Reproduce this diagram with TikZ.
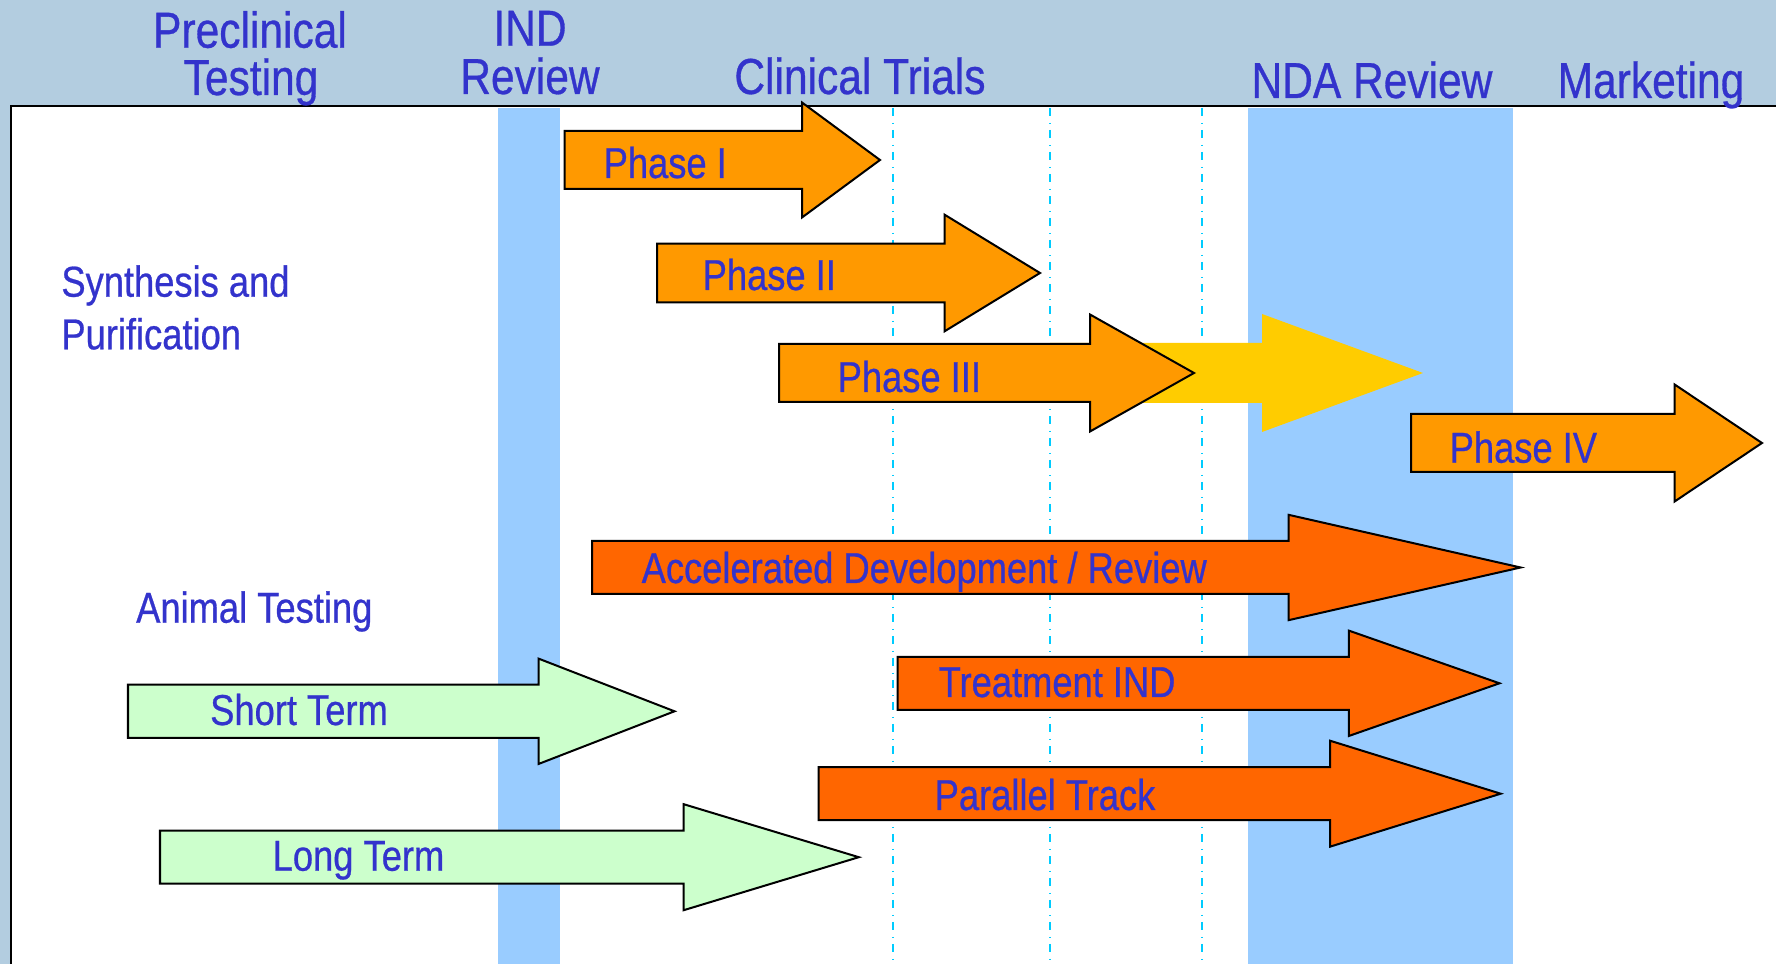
\documentclass[tikz,border=0pt]{standalone}
\usepackage{fontspec}
\setmainfont{Liberation Sans}[FakeStretch=0.84,FakeBold=0.6]
\definecolor{hdrColor}{HTML}{B3CDE0}
\definecolor{txtColor}{HTML}{3333CC}
\definecolor{revColor}{HTML}{99CCFF}
\definecolor{gridColor}{HTML}{00CCFF}
\definecolor{phColor}{HTML}{FF9900}
\definecolor{ylColor}{HTML}{FFCC00}
\definecolor{acColor}{HTML}{FF6600}
\definecolor{anColor}{HTML}{CCFFCC}
\newcommand{\HdrFont}{\fontsize{14.4}{17}\selectfont}
\newcommand{\LabFont}{\fontsize{12.3}{15}\selectfont}
% block arrow: style, left x, head x, tip x, mid y, half body, half head
\newcommand{\blockarrow}[7]{%
  \path[#1] (#2,#5-#6) -- (#3,#5-#6) -- (#3,#5-#7) -- (#4,#5)
    -- (#3,#5+#7) -- (#3,#5+#6) -- (#2,#5+#6) -- cycle;}
\tikzset{
	hdr/.style={text=txtColor, font=\HdrFont, inner sep=0pt, anchor=base},
	lab/.style={text=txtColor, font=\LabFont, inner sep=0pt, anchor=base west},
	arr/.style={draw=black, line width=0.57pt},
	grid line/.style={gridColor, line width=0.2mm,
		dash pattern=on 0.8mm off 0.7mm on 0.1mm off 0.6mm}
}
\begin{document}
\begin{tikzpicture}[x=0.1mm,y=-0.1mm]
	\useasboundingbox (0,0) rectangle (1776,964);
	\fill[hdrColor] (0,0) rectangle (1776,964);
	\fill[white] (11,106) rectangle (1776,964);
	% review periods
	\fill[revColor] (498,108) rectangle (560,964);
	\fill[revColor] (1248,108) rectangle (1513,964);
	\foreach \x in {893,1050,1202}
		\draw[grid line] (\x,108) -- (\x,964);
	\draw[line width=0.57pt] (11,964) -- (11,106) -- (1776,106);
	% headers
	\node[hdr] (pre1) at (250,47.7) {Preclinical};
	\node[hdr] (pre2) at (251,95) {Testing};
	\node[hdr] (ind1) at (530,45.7) {IND};
	\node[hdr] (ind2) at (530,94) {Review};
	\node[hdr] (clin) at (860,94) {Clinical Trials};
	\node[hdr] (nda) at (1372,98) {NDA Review};
	\node[hdr] (mkt) at (1651,98) {Marketing};
	% clinical phases
	\blockarrow{fill=ylColor}{1050}{1262}{1423}{373}{30}{59}
	\blockarrow{arr, fill=phColor}{564.5}{802}{880}{160}{29}{57.5}
	\blockarrow{arr, fill=phColor}{657}{944.6}{1040}{273}{29.3}{58.3}
	\blockarrow{arr, fill=phColor}{779}{1090}{1194}{373}{29}{58.5}
	\blockarrow{arr, fill=phColor}{1411}{1674.6}{1762}{443}{29}{58.5}
	\blockarrow{arr, fill=acColor}{592}{1288.5}{1520.6}{567.5}{26.5}{52.7}
	\blockarrow{arr, fill=acColor}{897.7}{1348.8}{1499.5}{683.3}{26.5}{52.7}
	\blockarrow{arr, fill=acColor}{818.7}{1330}{1500.7}{793.7}{26.5}{53}
	% animal testing
	\blockarrow{arr, fill=anColor}{128}{538.5}{674.5}{711.3}{26.7}{52.7}
	\blockarrow{arr, fill=anColor}{160}{683.7}{858.8}{857.2}{26.5}{53}
	% labels
	\node[lab] (syn1) at (60.7,296.7) {Synthesis and};
	\node[lab] (syn2) at (60.7,349.3) {Purification};
	\node[lab] (anim) at (135.5,622.7) {Animal Testing};
	\node[lab] (ph1) at (603,178) {Phase I};
	\node[lab] (ph2) at (702,290) {Phase II};
	\node[lab] (ph3) at (837,392) {Phase III};
	\node[lab] (ph4) at (1449,462.7) {Phase IV};
	\node[lab] (acc) at (641,583) {Accelerated Development / Review};
	\node[lab] (treat) at (938,697) {Treatment IND};
	\node[lab] (par) at (934,810) {Parallel Track};
	\node[lab] (short) at (209.5,725) {Short Term};
	\node[lab] (long) at (272,870.7) {Long Term};
\end{tikzpicture}
\end{document}
